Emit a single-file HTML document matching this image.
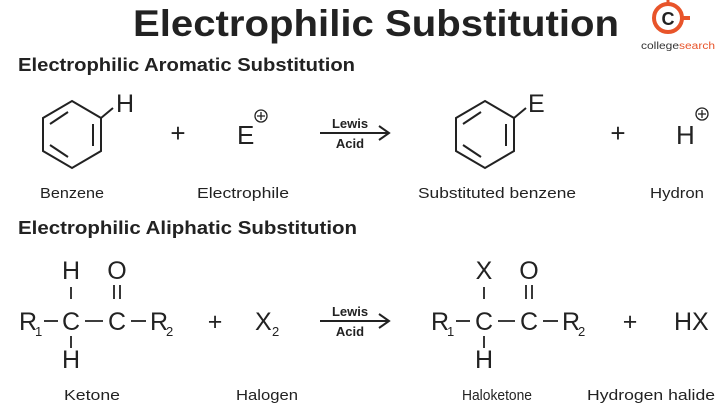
<!DOCTYPE html>
<html><head><meta charset="utf-8"><style>
html,body{margin:0;padding:0;background:#fff;}
svg{display:block;}
text{font-family:"Liberation Sans",sans-serif;fill:#222;}
</style></head><body>
<svg width="720" height="406" viewBox="0 0 720 406" xmlns="http://www.w3.org/2000/svg">
<rect width="720" height="406" fill="#fff"/>
<!-- title -->
<text x="376" y="36" font-size="37" font-weight="bold" text-anchor="middle" textLength="486" lengthAdjust="spacingAndGlyphs" fill="#1a1a1a">Electrophilic Substitution</text>
<!-- logo -->
<circle cx="668" cy="18" r="14" fill="none" stroke="#e8542a" stroke-width="4"/>
<line x1="682" y1="18" x2="690" y2="18" stroke="#e8542a" stroke-width="4"/>
<line x1="668" y1="0" x2="668" y2="4" stroke="#e8542a" stroke-width="3"/>
<text x="668" y="25" font-size="18" font-weight="bold" text-anchor="middle" fill="#333">C</text>
<text x="678" y="49" font-size="10" text-anchor="middle" textLength="74" lengthAdjust="spacingAndGlyphs"><tspan fill="#333">college</tspan><tspan fill="#e8542a">search</tspan></text>

<text x="18" y="71" font-size="18" font-weight="bold" textLength="337" lengthAdjust="spacingAndGlyphs">Electrophilic Aromatic Substitution</text>

<!-- benzene 1 -->
<g fill="none" stroke="#222" stroke-width="2">
<polygon points="72,101 101,118 101,151 72,168 43,151 43,118"/>
<line x1="93" y1="124" x2="93" y2="146"/>
<line x1="50" y1="124" x2="68" y2="112"/>
<line x1="50" y1="145" x2="68" y2="157"/>
<line x1="101" y1="118" x2="113" y2="108"/>
</g>
<text x="116" y="112" font-size="25">H</text>
<text x="178" y="142" font-size="26" text-anchor="middle">+</text>
<text x="237" y="144" font-size="26">E</text>
<circle cx="261" cy="116" r="6" fill="none" stroke="#222" stroke-width="1.3"/>
<path d="M257 116h8M261 112v8" stroke="#222" stroke-width="1.3"/>
<!-- arrow 1 -->
<line x1="320" y1="133" x2="388" y2="133" stroke="#222" stroke-width="2"/>
<path d="M379 126 L389 133 L379 140" fill="none" stroke="#222" stroke-width="2"/>
<text x="350" y="128" font-size="13" font-weight="bold" text-anchor="middle">Lewis</text>
<text x="350" y="148" font-size="13" font-weight="bold" text-anchor="middle">Acid</text>
<!-- benzene 2 -->
<g fill="none" stroke="#222" stroke-width="2">
<polygon points="485,101 514,118 514,151 485,168 456,151 456,118"/>
<line x1="506" y1="124" x2="506" y2="146"/>
<line x1="463" y1="124" x2="481" y2="112"/>
<line x1="463" y1="145" x2="481" y2="157"/>
<line x1="514" y1="118" x2="526" y2="108"/>
</g>
<text x="528" y="112" font-size="25">E</text>
<text x="618" y="142" font-size="26" text-anchor="middle">+</text>
<text x="676" y="144" font-size="26">H</text>
<circle cx="702" cy="114" r="6" fill="none" stroke="#222" stroke-width="1.3"/>
<path d="M698 114h8M702 110v8" stroke="#222" stroke-width="1.3"/>

<g font-size="15">
<text x="72" y="198" text-anchor="middle" textLength="64" lengthAdjust="spacingAndGlyphs">Benzene</text>
<text x="243" y="198" text-anchor="middle" textLength="92" lengthAdjust="spacingAndGlyphs">Electrophile</text>
<text x="497" y="198" text-anchor="middle" textLength="158" lengthAdjust="spacingAndGlyphs">Substituted benzene</text>
<text x="677" y="198" text-anchor="middle" textLength="54" lengthAdjust="spacingAndGlyphs">Hydron</text>
</g>

<text x="18" y="234" font-size="18" font-weight="bold" textLength="339" lengthAdjust="spacingAndGlyphs">Electrophilic Aliphatic Substitution</text>

<!-- ketone -->
<g font-size="25">
<text x="71" y="279" text-anchor="middle">H</text>
<text x="117" y="279" text-anchor="middle">O</text>
<text x="19" y="330">R</text><text x="35" y="336" font-size="13">1</text>
<text x="71" y="330" text-anchor="middle">C</text>
<text x="117" y="330" text-anchor="middle">C</text>
<text x="150" y="330">R</text><text x="166" y="336" font-size="13">2</text>
<text x="71" y="368" text-anchor="middle">H</text>
<text x="215" y="330" text-anchor="middle">+</text>
<text x="255" y="330">X</text><text x="272" y="336" font-size="13">2</text>
</g>
<g stroke="#222" stroke-width="1.8">
<line x1="44" y1="321" x2="58" y2="321"/>
<line x1="85" y1="321" x2="103" y2="321"/>
<line x1="131" y1="321" x2="146" y2="321"/>
<line x1="71" y1="287" x2="71" y2="299"/>
<line x1="71" y1="336" x2="71" y2="348"/>
<line x1="114" y1="285" x2="114" y2="299"/>
<line x1="120" y1="285" x2="120" y2="299"/>
</g>
<!-- arrow 2 -->
<line x1="320" y1="321" x2="388" y2="321" stroke="#222" stroke-width="2"/>
<path d="M379 314 L389 321 L379 328" fill="none" stroke="#222" stroke-width="2"/>
<text x="350" y="316" font-size="13" font-weight="bold" text-anchor="middle">Lewis</text>
<text x="350" y="336" font-size="13" font-weight="bold" text-anchor="middle">Acid</text>
<!-- haloketone -->
<g font-size="25">
<text x="484" y="279" text-anchor="middle">X</text>
<text x="529" y="279" text-anchor="middle">O</text>
<text x="431" y="330">R</text><text x="447" y="336" font-size="13">1</text>
<text x="484" y="330" text-anchor="middle">C</text>
<text x="529" y="330" text-anchor="middle">C</text>
<text x="562" y="330">R</text><text x="578" y="336" font-size="13">2</text>
<text x="484" y="368" text-anchor="middle">H</text>
<text x="630" y="330" text-anchor="middle">+</text>
<text x="674" y="330">HX</text>
</g>
<g stroke="#222" stroke-width="1.8">
<line x1="456" y1="321" x2="470" y2="321"/>
<line x1="498" y1="321" x2="515" y2="321"/>
<line x1="543" y1="321" x2="558" y2="321"/>
<line x1="484" y1="287" x2="484" y2="299"/>
<line x1="484" y1="336" x2="484" y2="348"/>
<line x1="526" y1="285" x2="526" y2="299"/>
<line x1="532" y1="285" x2="532" y2="299"/>
</g>

<g font-size="15">
<text x="92" y="400" text-anchor="middle" textLength="56" lengthAdjust="spacingAndGlyphs">Ketone</text>
<text x="267" y="400" text-anchor="middle" textLength="62" lengthAdjust="spacingAndGlyphs">Halogen</text>
<text x="497" y="400" text-anchor="middle" textLength="70" lengthAdjust="spacingAndGlyphs">Haloketone</text>
<text x="651" y="400" text-anchor="middle" textLength="128" lengthAdjust="spacingAndGlyphs">Hydrogen halide</text>
</g>
</svg>
</body></html>
